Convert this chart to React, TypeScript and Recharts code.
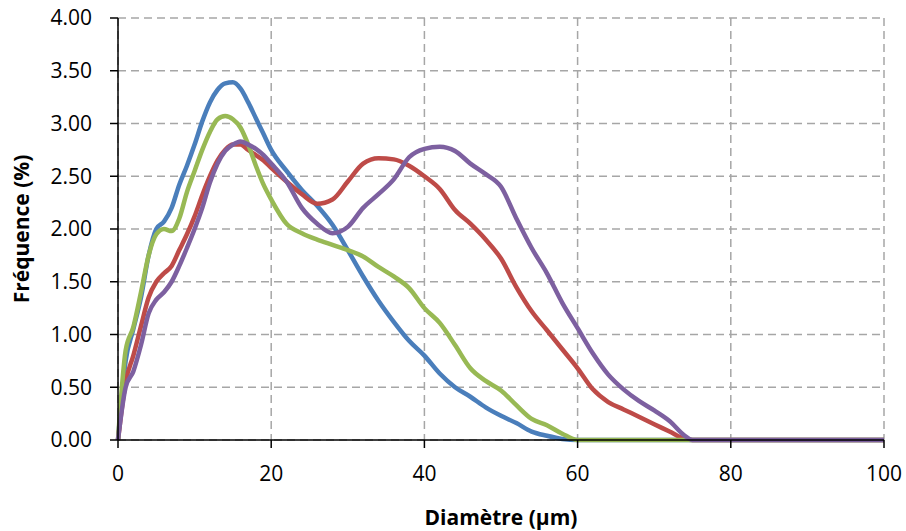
import React from 'react';
import { LineChart, Line, XAxis, YAxis, CartesianGrid } from 'recharts';

// Diamètre (µm) – points de lecture communs aux quatre courbes
const DIAMETRE = [
  0, 1, 2, 3, 4, 5, 6, 7, 8, 9, 10, 11, 12, 13, 14, 15, 16, 17, 18, 19, 20,
  22, 24, 26, 28, 30, 32, 34, 36, 38, 40, 42, 44, 46, 48, 50, 52, 54, 56, 58,
  60, 62, 64, 66, 68, 70, 72, 74, 75, 76, 78, 80, 90, 100,
];

const SERIE_BLEUE = [
  0, 0.75, 1.05, 1.35, 1.75, 2.0, 2.07, 2.2, 2.42, 2.6, 2.8, 3.02, 3.2, 3.32, 3.38, 3.39, 3.33, 3.2, 3.05, 2.9, 2.75,
  2.55, 2.37, 2.22, 2.04, 1.8, 1.55, 1.32, 1.12, 0.94, 0.8, 0.63, 0.5, 0.41, 0.31, 0.23, 0.16, 0.08, 0.04, 0.01,
  0, 0, 0, 0, 0, 0, 0, 0, 0, 0, 0, 0, 0, 0,
];

const SERIE_ROUGE = [
  0, 0.55, 0.8, 1.08, 1.35, 1.5, 1.58, 1.65, 1.8, 1.95, 2.12, 2.32, 2.5, 2.65, 2.75, 2.8, 2.8, 2.75, 2.7, 2.65, 2.58,
  2.45, 2.33, 2.24, 2.28, 2.45, 2.62, 2.67, 2.66, 2.6, 2.5, 2.38, 2.18, 2.05, 1.9, 1.72, 1.45, 1.22, 1.04, 0.86,
  0.68, 0.48, 0.36, 0.29, 0.22, 0.15, 0.08, 0.01, 0, 0, 0, 0, 0, 0,
];

const SERIE_VERTE = [
  0, 0.85, 1.07, 1.4, 1.75, 1.95, 2.0, 1.98, 2.1, 2.35, 2.55, 2.75, 2.92, 3.04, 3.07, 3.04, 2.96, 2.8, 2.6, 2.42, 2.28,
  2.05, 1.96, 1.9, 1.85, 1.8, 1.74, 1.64, 1.55, 1.44, 1.25, 1.11, 0.9, 0.68, 0.56, 0.47, 0.33, 0.2, 0.14, 0.06,
  0, 0, 0, 0, 0, 0, 0, 0, 0, 0, 0, 0, 0, 0,
];

const SERIE_VIOLETTE = [
  0, 0.5, 0.65, 0.9, 1.2, 1.33, 1.4, 1.5, 1.65, 1.82, 2.0, 2.2, 2.44, 2.62, 2.74, 2.8, 2.83, 2.8, 2.76, 2.7, 2.62,
  2.45, 2.2, 2.05, 1.96, 2.02, 2.2, 2.33, 2.47, 2.68, 2.76, 2.78, 2.74, 2.62, 2.52, 2.4, 2.1, 1.82, 1.58, 1.3,
  1.06, 0.82, 0.62, 0.48, 0.37, 0.28, 0.18, 0.04, 0, 0, 0, 0, 0, 0,
];

const X_TICKS = [0, 20, 40, 60, 80, 100];
const Y_TICKS = [0, 0.5, 1, 1.5, 2, 2.5, 3, 3.5, 4];

const data = DIAMETRE.map((d, i) => ({
  d,
  bleue: SERIE_BLEUE[i],
  rouge: SERIE_ROUGE[i],
  verte: SERIE_VERTE[i],
  violette: SERIE_VIOLETTE[i],
}));

const FONT = '"Open Sans", sans-serif';
const tickStyle = { fontFamily: FONT, fontSize: 21, fill: '#000' };

export default function App() {
  return (
    <div style={{ position: 'absolute', left: 0, top: 0, background: '#fff' }}>
      <LineChart width={906} height={531} data={data} margin={{ top: 18, right: 22, left: 0, bottom: 0 }}>
        <CartesianGrid stroke="#a6a6a6" strokeWidth={1.5} strokeDasharray="8 5" />
        <XAxis
          dataKey="d"
          type="number"
          domain={[0, 100]}
          ticks={X_TICKS}
          height={91}
          tickSize={8}
          tickMargin={18}
          axisLine={{ stroke: '#000', strokeWidth: 1.5 }}
          tickLine={{ stroke: '#000', strokeWidth: 1.5 }}
          tick={tickStyle}
          label={{
            value: 'Diamètre (µm)',
            position: 'insideBottom',
            offset: 6,
            style: { fontFamily: FONT, fontSize: 21, fontWeight: 700, fill: '#000' },
          }}
        />
        <YAxis
          type="number"
          domain={[0, 4]}
          ticks={Y_TICKS}
          width={118}
          tickSize={8}
          tickMargin={18}
          tickFormatter={(v: number) => v.toFixed(2)}
          axisLine={{ stroke: '#000', strokeWidth: 1.5 }}
          tickLine={{ stroke: '#000', strokeWidth: 1.5 }}
          tick={tickStyle}
          label={{
            value: 'Fréquence (%)',
            angle: -90,
            position: 'insideLeft',
            offset: 22,
            style: { fontFamily: FONT, fontSize: 21, fontWeight: 700, fill: '#000', textAnchor: 'middle' },
          }}
        />
        <Line type="monotone" dataKey="bleue" stroke="#4a7ebb" strokeWidth={4.5} dot={false} isAnimationActive={false} />
        <Line type="monotone" dataKey="rouge" stroke="#be4b48" strokeWidth={4.5} dot={false} isAnimationActive={false} />
        <Line type="monotone" dataKey="verte" stroke="#98b954" strokeWidth={4.5} dot={false} isAnimationActive={false} />
        <Line type="monotone" dataKey="violette" stroke="#7d60a0" strokeWidth={4.5} dot={false} isAnimationActive={false} />
      </LineChart>
    </div>
  );
}
